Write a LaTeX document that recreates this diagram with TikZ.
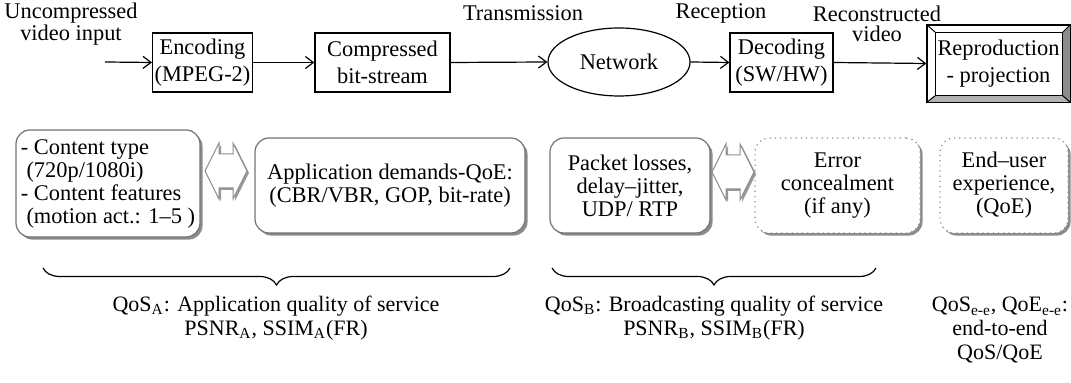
\documentclass[tikz,border=0pt]{standalone}
\usepackage{fontspec}
\setmainfont{Liberation Serif}
\usetikzlibrary{arrows.meta,shapes.geometric,shadows,decorations.pathreplacing,calc}
\begin{document}
\begin{tikzpicture}[x=0.5pt,y=-0.5pt,
  every node/.style={font=\fontsize{11.2}{11.5}\selectfont},
  blk/.style={draw, line width=0.6pt, minimum height=29.5pt, align=center, inner sep=1pt, fill=white,
     font=\fontsize{11.2}{13.5}\selectfont},
  conn/.style={line width=0.6pt, -{Straight Barb[length=4pt,width=6pt]}},
  rbox/.style={draw=black!55, line width=0.6pt, rounded corners=7pt, fill=white,
     minimum height=47.5pt, align=center, inner sep=2pt,
     drop shadow={shadow xshift=1.3pt, shadow yshift=-1.3pt, fill=black!45, opacity=1}},
  dbox/.style={rbox, dotted, draw=black!45},
  lbl/.style={align=center, font=\fontsize{11.2}{10}\selectfont},
  lbl2/.style={align=center, font=\fontsize{11}{11.8}\selectfont},
  brc/.style={decorate, decoration={brace, mirror, amplitude=8.5pt}, line width=0.6pt},
  dblarr/.pic={
    \fill[black!40, shift={(2,2)}] (-21,0) -- (-7,-28) -- (-7,-17) -- (7,-17) -- (7,-28) -- (21,0)
        -- (7,28) -- (7,17) -- (-7,17) -- (-7,28) -- cycle;
    \draw[black!45, fill=white, line width=0.5pt] (-21,0) -- (-7,-28) -- (-7,-17) -- (7,-17) -- (7,-28) -- (21,0)
        -- (7,28) -- (7,17) -- (-7,17) -- (-7,28) -- cycle;
  },
]
\useasboundingbox (0,0) rectangle (1071,383);

% top labels
\node[lbl] (lin) at (71,24) {Uncompressed\\video input};
\node[lbl] (ltx) at (523,13) {Transmission};
\node[lbl] (lrx) at (721,13) {Reception};
\node[lbl] (lrv) at (877,24) {Reconstructed\\video};

% top chain
\coordinate (in) at (105,62);
\node[blk, minimum width=44.5pt] (enc) at (202.5,62.5) {Encoding\\(MPEG-2)};
\node[blk, minimum width=67.5pt] (cmp) at (382.5,62.5) {Compressed\\bit-stream};
\node[draw, ellipse, line width=0.6pt, minimum width=71pt, minimum height=34pt, inner sep=0pt] (net) at (619,62) {Network};
\node[blk, minimum width=51.5pt] (dec) at (781.5,62.5) {Decoding\\(SW/HW)};
\node[draw, line width=0.6pt, fill=white, minimum width=71.5pt, minimum height=38.5pt, align=center, inner sep=1pt,
      font=\fontsize{11.2}{13.5}\selectfont] (rep) at (998.5,63.5) {Reproduction\\- projection};
% bevel
\coordinate (ri1) at ($(rep.north west)+(9,8)$);
\coordinate (ri2) at ($(rep.north east)+(-8,8)$);
\coordinate (ri3) at ($(rep.south east)+(-8,-7)$);
\coordinate (ri4) at ($(rep.south west)+(9,-7)$);
\fill[black!45] (rep.north east) -- (ri2) -- (ri3) -- (rep.south east) -- cycle;
\fill[black!30] (rep.south west) -- (ri4) -- (ri3) -- (rep.south east) -- cycle;
\draw[line width=0.6pt] (ri1) -- (ri2) -- (ri3) -- (ri4) -- cycle;
\draw[line width=0.5pt] (rep.north west) -- (ri1) (rep.north east) -- (ri2)
   (rep.south east) -- (ri3) (rep.south west) -- (ri4);
\draw[line width=0.6pt] (rep.north west) rectangle (rep.south east);

\draw[conn] (in) -- (enc.west);
\draw[conn] (enc.east) -- (cmp.west);
\draw[conn] (cmp.east) -- (net.west);
\draw[conn] (net.east) -- (dec.west);
\draw[conn] (dec.east) -- (rep.west);

% bottom boxes
\node[rbox, minimum width=92pt, minimum height=53.5pt, align=left] (b1) at (108,183.5)
  {- Content type\\\hspace*{0.25em}(720p/1080i)\\- Content features\\\hspace*{0.25em}(motion act.: 1--5 )};
\node[rbox, minimum width=135pt] (b2) at (390,185.5) {Application demands-QoE:\\(CBR/VBR, GOP, bit-rate)};
\node[rbox, minimum width=80pt] (b3) at (630,185.5) {Packet losses,\\delay--jitter,\\UDP/ RTP};
\node[dbox, minimum width=82.5pt] (b4) at (837.5,185.5) {Error\\concealment\\(if any)};
\node[dbox, minimum width=64pt] (b5) at (1004,185.5) {End--user\\experience,\\(QoE)};

\pic at (226,171) {dblarr};
\pic at (733,172) {dblarr};

% braces
\coordinate (ba1) at (43,268);
\coordinate (ba2) at (510,268);
\coordinate (bb1) at (552,268);
\coordinate (bb2) at (876,268);
\draw[brc] (ba1) -- (ba2);
\draw[brc] (bb1) -- (bb2);

\node[lbl2] (qa) at (276,318) {QoS\textsubscript{A}: Application quality of service\\PSNR\textsubscript{A}, SSIM\textsubscript{A}(FR)};
\node[lbl2] (qb) at (714,318) {QoS\textsubscript{B}: Broadcasting quality of service\\PSNR\textsubscript{B}, SSIM\textsubscript{B}(FR)};
\node[lbl2] (qe) at (1000,330) {QoS\textsubscript{e-e}, QoE\textsubscript{e-e}:\\end-to-end\\QoS/QoE};
\end{tikzpicture}
\end{document}
